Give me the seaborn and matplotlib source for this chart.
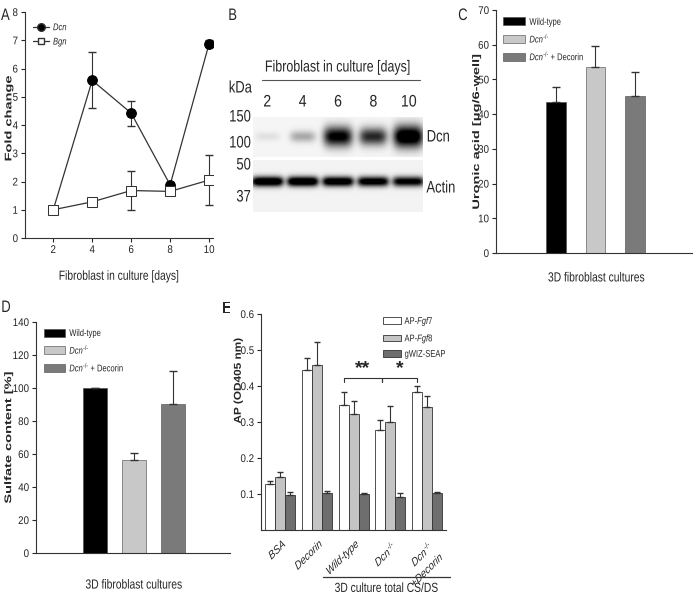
import numpy as np
import pandas as pd
import matplotlib
matplotlib.use("Agg")
import matplotlib.pyplot as plt
from matplotlib.patches import Patch
from matplotlib.lines import Line2D
from matplotlib.patheffects import AbstractPathEffect
from matplotlib.transforms import Affine2D, Bbox
import seaborn as sns

# Panel A - qPCR fold change
days = [2, 4, 6, 8, 10]
dcn_fold = [1.0, 5.58, 4.42, 1.88, 6.88]
dcn_err = [0.05, 0.99, 0.44, 0.05, 0.12]
bgn_fold = [1.0, 1.28, 1.68, 1.65, 2.05]
bgn_err = [0.1, 0.1, 0.68, 0.05, 0.88]

# Panel B - western blot band strengths (0..1)
blot_lanes = ["2", "4", "6", "8", "10"]
dcn_band = [0.07, 0.25, 0.85, 0.68, 1.0]
actin_band = [0.95, 0.95, 0.9, 0.85, 0.8]
kda_marks = ["150", "100", "50", "37"]

# Panels C and D
genotypes = ["Wild-type", "Dcn-/-", "Dcn-/- + Decorin"]
genotype_labels = ["Wild-type", r"$\it{Dcn}^{\text{-/-}}$", r"$\it{Dcn}^{\text{-/-}}$ + Decorin"]
genotype_colors = ["#000000", "#c8c8c8", "#7a7a7a"]
uronic = [43.6, 53.7, 45.3]
uronic_err = [4.3, 6.0, 6.9]
sulfate = [100, 56.4, 90.3]
sulfate_err = [0, 4.0, 20.0]

# Panel E - AP binding assay
e_groups = ["BSA", "Decorin", "Wild-type", "Dcn-/-", "Dcn-/- +Decorin"]
e_labels = ["BSA", "Decorin", "Wild-type", r"$Dcn^{\text{-/-}}$", r"$Dcn^{\text{-/-}}$" + "\n+Decorin"]
constructs = ["AP-Fgf7", "AP-Fgf8", "gWIZ-SEAP"]
construct_labels = [r"AP-$\it{Fgf}$7", r"AP-$\it{Fgf}$8", "gWIZ-SEAP"]
construct_colors = ["#ffffff", "#c4c4c4", "#6e6e6e"]
fgf7 = [0.128, 0.445, 0.346, 0.277, 0.383]
fgf7_err = [0.009, 0.033, 0.037, 0.029, 0.017]
fgf8 = [0.148, 0.457, 0.321, 0.300, 0.341]
fgf8_err = [0.014, 0.065, 0.036, 0.044, 0.030]
seap = [0.098, 0.104, 0.099, 0.092, 0.102]
seap_err = [0.007, 0.003, 0.005, 0.010, 0.004]

sns.set_style("ticks")
plt.rcParams["font.family"] = ["Liberation Sans", "DejaVu Sans"]
plt.rcParams["mathtext.fontset"] = "custom"
plt.rcParams["mathtext.rm"] = "Liberation Sans"
plt.rcParams["mathtext.it"] = "Liberation Sans:italic"
plt.rcParams["mathtext.bf"] = "Liberation Sans:bold"
plt.rcParams["axes.linewidth"] = 0.8
plt.rcParams["axes.edgecolor"] = "#333333"
plt.rcParams["xtick.major.size"] = 3
plt.rcParams["ytick.major.size"] = 3
plt.rcParams["xtick.major.width"] = 0.8
plt.rcParams["ytick.major.width"] = 0.8
plt.rcParams["xtick.major.pad"] = 2
plt.rcParams["ytick.major.pad"] = 2
plt.rcParams["xtick.labelsize"] = 8
plt.rcParams["ytick.labelsize"] = 8


def _ref(x0, x1, align):
    return {"left": x0, "center": (x0 + x1) / 2, "right": x1}[align]


class Squash(AbstractPathEffect):
    """Squeeze text horizontally (the original figure uses a narrow face)."""

    def __init__(self, sx=0.78, align="center"):
        super().__init__()
        self.sx = sx
        self.align = align

    def draw_path(self, renderer, gc, tpath, affine, rgbFace=None):
        ext = tpath.transformed(affine).get_extents()
        ref = _ref(ext.x0, ext.x1, self.align)
        sq = Affine2D().translate(-ref, 0).scale(self.sx, 1).translate(ref, 0)
        renderer.draw_path(gc, tpath, affine + sq, rgbFace)


def squash(texts, align="center", sx=0.78):
    for t in texts:
        t.set_path_effects([Squash(sx, align)])
        orig = t.get_window_extent

        # report the squeezed box, so extents match what is drawn
        def extent(renderer=None, dpi=None, _orig=orig, _sx=sx, _al=align):
            bb = _orig(renderer, dpi)
            ref = _ref(bb.x0, bb.x1, _al)
            return Bbox([[ref + (bb.x0 - ref) * _sx, bb.y0], [ref + (bb.x1 - ref) * _sx, bb.y1]])

        t.get_window_extent = extent


W, H = 693, 595
fig = plt.figure(figsize=(W / 100, H / 100), dpi=100)


def box(l, t, r, b):
    # pixel box -> figure fraction
    return [l / W, 1 - b / H, (r - l) / W, (b - t) / H]


ylab_font = dict(fontsize=10.5, fontweight="bold")
xlab_font = dict(fontsize=9.5)

# ---------- A ----------
ax = fig.add_axes(box(25, 12, 213, 238))
ax.errorbar(days, dcn_fold, yerr=dcn_err, fmt="none", ecolor="#333", elinewidth=0.8, capsize=3, zorder=1)
ax.errorbar(days, bgn_fold, yerr=bgn_err, fmt="none", ecolor="#333", elinewidth=0.8, capsize=3, zorder=1)
sns.lineplot(x=days, y=dcn_fold, ax=ax, color="#333", lw=0.9, marker="o", markersize=7,
             markerfacecolor="black", markeredgecolor="black", zorder=3)
sns.lineplot(x=days, y=bgn_fold, ax=ax, color="#333", lw=0.9, marker="s", markersize=6.5,
             markerfacecolor="white", markeredgecolor="#333", zorder=3)
ax.set_xlim(0.55, 10.2)
ax.set_ylim(0, 8)
ax.set_xticks(days)
ax.set_yticks(range(0, 9))
sns.despine(ax=ax)
ax.set_ylabel("Fold change", **ylab_font)
ax.yaxis.set_label_coords(-0.062, 0.53)
ax.set_xlabel("Fibroblast in culture [days]", **xlab_font)
ax.xaxis.set_label_coords(0.5, -0.145)
a_handles = [Line2D([], [], color="#333", lw=0.9, marker="o", markersize=5.5, markerfacecolor="black"),
             Line2D([], [], color="#333", lw=0.9, marker="s", markersize=5, markerfacecolor="white")]
leg_a = ax.legend(a_handles, ["Dcn", "Bgn"], loc="upper left", bbox_to_anchor=(0.04, 0.955),
                  frameon=False, prop=dict(style="italic", size=7), handlelength=1.7,
                  handletextpad=0.4, labelspacing=0.45, borderpad=0, borderaxespad=0)

# ---------- B (blot) ----------
axb = fig.add_axes(box(253, 117, 423, 212))
rows = np.arange(95)
xs = np.linspace(0, 5, 170)
img = np.zeros((95, 170))
img[:40] = 0.04
img[43:] = 0.05
lane_x = [0.42 + 1.04 * i for i in range(len(blot_lanes))]
for cx, d, a in zip(lane_x, dcn_band, actin_band):
    px = np.exp(-((xs - cx) / (0.36 + 0.08 * d)) ** 4)
    py = np.exp(-((rows - 19) / (4 + 7 * d)) ** 2)
    py[40:] = 0
    img += 1.2 * d * np.outer(py, px)
    px = np.exp(-((xs - cx) / 0.47) ** 6)
    py = np.exp(-((rows - 64) / 5.0) ** 2)
    py[:43] = 0
    img += 1.3 * a * np.outer(py, px)
img[40:43] = 0
axb.imshow(np.clip(img, 0, 1), cmap="gray_r", vmin=0, vmax=1, aspect="auto", extent=(0, 5, 95, 0),
           interpolation="bilinear")
axb.set_xlim(0, 5)
axb.set_ylim(95, 0)
axb.axis("off")
blot_texts = []
for cx, lane in zip(lane_x, blot_lanes):
    blot_texts.append(axb.text(cx, -15, lane, ha="center", va="center", fontsize=12))
blot_head = axb.text(2.5, -50, "Fibroblast in culture [days]", ha="center", va="center", fontsize=11.5)
axb.plot([0.27, 4.9], [-37, -37], color="#555", lw=0.8, clip_on=False)
kda_texts = [axb.text(-0.72, -29, "kDa", ha="left", va="center", fontsize=12)]
side_texts = []
for mark, r in zip(kda_marks, [0, 26, 48, 80]):
    side_texts.append(axb.text(-0.06, r, mark, ha="right", va="center", fontsize=12))
prot_texts = [axb.text(5.1, 20, "Dcn", ha="left", va="center", fontsize=12),
              axb.text(5.1, 71, "Actin", ha="left", va="center", fontsize=12)]

# ---------- C ----------
axc = fig.add_axes(box(496, 10, 693, 253))
sns.barplot(x=genotypes, y=uronic, hue=genotypes, palette=genotype_colors, legend=False,
            width=0.5, edgecolor="#444", linewidth=0.4, ax=axc)
axc.errorbar(range(3), uronic, yerr=[[0] * 3, uronic_err], fmt="none", ecolor="#333",
             elinewidth=0.8, capsize=3)
axc.set_xlim(-1.52, 3.47)
axc.set_ylim(0, 70)
axc.set_yticks(range(0, 71, 10))
axc.set_xticks([])
sns.despine(ax=axc)
axc.set_ylabel("Uronic acid [\u03bcg/6-well]", **ylab_font)
axc.yaxis.set_label_coords(-0.076, 0.5)
axc.set_xlabel("3D fibroblast cultures", **xlab_font)
axc.xaxis.set_label_coords(0.51, -0.08)
c_handles = [Patch(facecolor=c, edgecolor="#444", linewidth=0.4) for c in genotype_colors]
leg_c = axc.legend(c_handles, genotype_labels, loc="upper left", bbox_to_anchor=(0.036, 0.972),
                   frameon=False, fontsize=7, handlelength=2.3, handleheight=0.9, handletextpad=0.4,
                   labelspacing=0.4, borderpad=0, borderaxespad=0)

# ---------- D ----------
axd = fig.add_axes(box(36, 322, 230, 553))
sns.barplot(x=genotypes, y=sulfate, hue=genotypes, palette=genotype_colors, legend=False,
            width=0.6, edgecolor="#444", linewidth=0.4, ax=axd)
axd.errorbar(range(3), sulfate, yerr=[[0] * 3, sulfate_err], fmt="none", ecolor="#333",
             elinewidth=0.8, capsize=3)
axd.set_xlim(-1.51, 3.46)
axd.set_ylim(0, 140)
axd.set_yticks(range(0, 141, 20))
axd.set_xticks([])
sns.despine(ax=axd)
axd.set_ylabel("Sulfate content [%]", **ylab_font)
axd.yaxis.set_label_coords(-0.118, 0.5)
axd.set_xlabel("3D fibroblast cultures", **xlab_font)
axd.xaxis.set_label_coords(0.505, -0.115)
leg_d = axd.legend(c_handles, genotype_labels, loc="upper left", bbox_to_anchor=(0.041, 0.974),
                   frameon=False, fontsize=7, handlelength=2.2, handleheight=0.9, handletextpad=0.4,
                   labelspacing=0.4, borderpad=0, borderaxespad=0)

# ---------- E ----------
axe = fig.add_axes(box(261, 314, 446, 530))
df = pd.DataFrame({
    "group": e_groups * 3,
    "construct": np.repeat(constructs, len(e_groups)),
    "value": fgf7 + fgf8 + seap,
})
sns.barplot(data=df, x="group", y="value", hue="construct", palette=construct_colors,
            width=0.82, edgecolor="#333", linewidth=0.6, ax=axe)
centers = []
for cont, vals, errs in zip(axe.containers, [fgf7, fgf8, seap], [fgf7_err, fgf8_err, seap_err]):
    cx = [b.get_x() + b.get_width() / 2 for b in cont]
    centers.append(cx)
    axe.errorbar(cx, vals, yerr=[[0] * len(vals), errs], fmt="none", ecolor="#333",
                 elinewidth=0.8, capsize=2.5)
axe.set_xlim(-0.53, 4.52)
axe.set_ylim(0, 0.6)
axe.set_yticks([0.1, 0.2, 0.3, 0.4, 0.5, 0.6])
axe.set_yticklabels(["0.1", "0.2", "0.3", "0.4", "0.5", "0.6"])
axe.set_xticks(range(len(e_groups)))
axe.set_xticklabels(e_labels, rotation=38, ha="right", rotation_mode="anchor",
                    fontsize=8.5, style="italic")
axe.tick_params(axis="x", length=0, pad=6)
sns.despine(ax=axe)
axe.set_xlabel("")
axe.set_ylabel("AP (OD405 nm)", fontsize=8.5, fontweight="bold")
axe.yaxis.set_label_coords(-0.095, 0.69)
leg_e = axe.legend(axe.containers[:3], construct_labels, loc="upper left", bbox_to_anchor=(0.66, 1.0),
                   frameon=False, fontsize=7, handlelength=1.8, handleheight=0.7, handletextpad=0.4,
                   labelspacing=0.35, borderpad=0, borderaxespad=0)
# significance brackets
x_wt, x_ko, x_res = centers[0][2], centers[0][3] + 0.05, centers[0][4]
for x0, x1, star in [(x_wt, x_ko, "**"), (x_ko, x_res, "*")]:
    axe.plot([x0, x0, x1, x1], [0.41, 0.421, 0.421, 0.41], color="#333", lw=0.8)
    axe.text((x0 + x1) / 2, 0.425, star, ha="center", va="bottom", fontsize=14, fontweight="bold")
# group underline
axe.plot([1.15, 4.62], [-0.219, -0.219], color="#333", lw=0.9, clip_on=False,
         transform=axe.get_xaxis_transform())
e_under = axe.text(2.9, -0.245, "3D culture total CS/DS", ha="center", va="top", fontsize=9.5,
                   transform=axe.get_xaxis_transform())

# panel letters
letters = []
for letter, x, y in [("A", 1, 8), ("B", 228, 8), ("C", 458, 8), ("D", 1, 300), ("E", 222, 301)]:
    letters.append(fig.text(x / W, 1 - y / H, letter, ha="left", va="top", fontsize=12))

# narrow look for all text
for a in [ax, axc, axd, axe]:
    squash(a.get_yticklabels(), "right", sx=0.88)
    if a is axe:
        squash(a.get_xticklabels(), "right")
    else:
        squash(a.get_xticklabels(), "center", sx=0.88)
    squash([a.xaxis.label], "center")
squash([ax.yaxis.label, axc.yaxis.label, axd.yaxis.label], "right", sx=0.66)
squash([axe.yaxis.label], "right", sx=0.85)
for leg in [leg_a, leg_c, leg_d, leg_e]:
    squash(leg.get_texts(), "left")
squash(blot_texts, "center", sx=0.85)
squash([blot_head], "center")
squash(side_texts, "right")
squash(kda_texts + prot_texts + letters, "left")
squash([e_under], "center")

fig.savefig("out.png", dpi=100)
